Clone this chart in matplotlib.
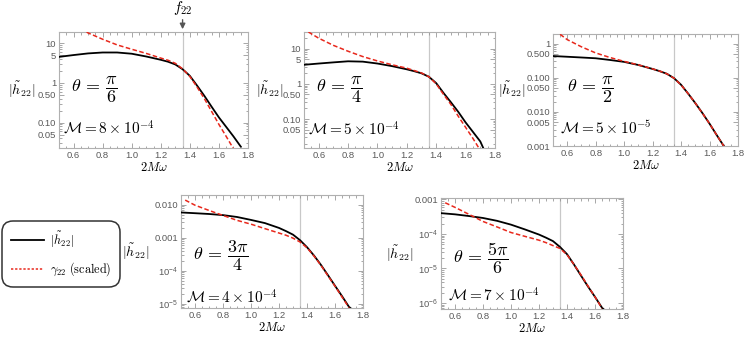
import numpy as np
import matplotlib
matplotlib.use("Agg")
import matplotlib.pyplot as plt
from matplotlib.lines import Line2D
from matplotlib.ticker import FixedLocator, LogLocator, NullFormatter, FixedFormatter

plt.rcParams['mathtext.fontset'] = 'cm'
plt.rcParams['font.family'] = ['Liberation Sans', 'DejaVu Sans']

f22 = 1.35

# Panel 1: theta = pi/6
x1_h = [0.5, 0.6, 0.7, 0.8, 0.9, 1.0, 1.1, 1.2, 1.25, 1.3, 1.35, 1.4, 1.45, 1.5, 1.55, 1.6, 1.65, 1.7, 1.75]
y1_h = [4.5, 5.0, 5.5, 5.8, 5.8, 5.4, 4.6, 3.8, 3.4, 2.9, 2.2, 1.5, 0.85, 0.47, 0.25, 0.135, 0.078, 0.045, 0.025]
x1_g = [0.69, 0.7, 0.8, 0.9, 1.0, 1.1, 1.2, 1.25, 1.3, 1.35, 1.4, 1.45, 1.5, 1.55, 1.6, 1.65, 1.7]
y1_g = [19, 18, 12.5, 9, 7, 5.5, 4.2, 3.7, 3.1, 2.25, 1.45, 0.78, 0.4, 0.19, 0.09, 0.045, 0.022]

# Panel 2: theta = pi/4
x2_h = [0.5, 0.6, 0.7, 0.8, 0.9, 1.0, 1.1, 1.2, 1.25, 1.3, 1.35, 1.4, 1.45, 1.5, 1.55, 1.6, 1.65, 1.7, 1.72]
y2_h = [3.5, 3.8, 4.1, 4.4, 4.3, 3.8, 3.2, 2.6, 2.3, 2.0, 1.6, 1.05, 0.55, 0.3, 0.16, 0.08, 0.043, 0.023, 0.015]
x2_g = [0.53, 0.6, 0.7, 0.8, 0.9, 1.0, 1.1, 1.2, 1.25, 1.3, 1.35, 1.4, 1.45, 1.5, 1.55, 1.6, 1.65, 1.69]
y2_g = [30, 20, 12.5, 8.5, 6, 4.5, 3.5, 2.8, 2.4, 2.05, 1.6, 1.0, 0.5, 0.26, 0.12, 0.058, 0.028, 0.015]

# Panel 3: theta = pi/2
x3_h = [0.5, 0.6, 0.7, 0.8, 0.9, 1.0, 1.1, 1.2, 1.25, 1.3, 1.35, 1.4, 1.45, 1.5, 1.55, 1.6, 1.65, 1.7]
y3_h = [0.43, 0.41, 0.39, 0.37, 0.33, 0.29, 0.235, 0.18, 0.155, 0.13, 0.097, 0.062, 0.034, 0.018, 0.0092, 0.0045, 0.0021, 0.001]
x3_g = [0.55, 0.6, 0.7, 0.8, 0.9, 1.0, 1.1, 1.2, 1.25, 1.3, 1.35, 1.4, 1.45, 1.5, 1.55, 1.6, 1.65, 1.7]
y3_g = [1.86, 1.3, 0.8, 0.53, 0.39, 0.3, 0.237, 0.181, 0.156, 0.13, 0.097, 0.061, 0.034, 0.018, 0.0091, 0.0045, 0.0021, 0.001]

# Panel 4: theta = 3pi/4
x4_h = [0.5, 0.6, 0.7, 0.8, 0.9, 1.0, 1.1, 1.2, 1.25, 1.3, 1.35, 1.4, 1.45, 1.5, 1.55, 1.6, 1.65, 1.7, 1.71]
y4_h = [0.0059, 0.0056, 0.0053, 0.0049, 0.0043, 0.0035, 0.0028, 0.0020, 0.0016, 0.00125, 0.00085, 0.00052,
        0.00029, 1.5e-4, 7.3e-5, 3.5e-5, 1.7e-5, 8.0e-6, 7.4e-6]
x4_g = [0.53, 0.6, 0.7, 0.8, 0.9, 1.0, 1.1, 1.2, 1.25, 1.3, 1.35, 1.4, 1.45, 1.5, 1.55, 1.6, 1.65, 1.7]
y4_g = [0.014, 0.0098, 0.0068, 0.0048, 0.0034, 0.0026, 0.0019, 0.0014, 0.0012, 0.00098, 0.00075, 0.0005,
        0.00028, 1.45e-4, 7.0e-5, 3.4e-5, 1.6e-5, 7.6e-6]

# Panel 5: theta = 5pi/6
x5_h = [0.5, 0.6, 0.7, 0.8, 0.9, 1.0, 1.1, 1.2, 1.25, 1.3, 1.35, 1.4, 1.45, 1.5, 1.55, 1.6, 1.65, 1.66]
y5_h = [4.0e-4, 3.7e-4, 3.3e-4, 2.9e-4, 2.4e-4, 1.86e-4, 1.35e-4, 9.6e-5, 7.8e-5, 6.2e-5, 4.2e-5, 2.6e-5,
        1.3e-5, 6.2e-6, 3.0e-6, 1.5e-6, 7.3e-7, 6.7e-7]
x5_g = [0.53, 0.6, 0.7, 0.8, 0.9, 1.0, 1.1, 1.2, 1.25, 1.3, 1.35, 1.4, 1.45, 1.5, 1.55, 1.6, 1.65]
y5_g = [8e-4, 5.9e-4, 3.7e-4, 2.3e-4, 1.6e-4, 1.1e-4, 8.5e-5, 6.6e-5, 5.6e-5, 4.6e-5, 3.8e-5, 2.5e-5,
        1.3e-5, 6.5e-6, 3.1e-6, 1.5e-6, 7e-7]

theta_labels = [r'$\theta\, =\, \dfrac{\pi}{6}$', r'$\theta\, =\, \dfrac{\pi}{4}$', r'$\theta\, =\, \dfrac{\pi}{2}$',
                r'$\theta\, =\, \dfrac{3\pi}{4}$', r'$\theta\, =\, \dfrac{5\pi}{6}$']
mass_labels = [r'$\mathcal{M} = 8\times10^{-4}$', r'$\mathcal{M} = 5\times10^{-4}$',
               r'$\mathcal{M} = 5\times10^{-5}$', r'$\mathcal{M} = 4\times10^{-4}$',
               r'$\mathcal{M} = 7\times10^{-4}$']

ytick_vals = [
    [10, 5, 1, 0.5, 0.1, 0.05],
    [10, 5, 1, 0.5, 0.1, 0.05],
    [1, 0.5, 0.1, 0.05, 0.01, 0.005, 0.001],
    [0.01, 0.001, 1e-4, 1e-5],
    [0.001, 1e-4, 1e-5, 1e-6],
]
ytick_labels = [
    ['10', '5', '1', '0.50', '0.10', '0.05'],
    ['10', '5', '1', '0.50', '0.10', '0.05'],
    ['1', '0.500', '0.100', '0.050', '0.010', '0.005', '0.001'],
    ['0.010', '0.001', r'$\mathregular{10^{-4}}$', r'$\mathregular{10^{-5}}$'],
    ['0.001', r'$\mathregular{10^{-4}}$', r'$\mathregular{10^{-5}}$', r'$\mathregular{10^{-6}}$'],
]
ylims = [(0.023, 19), (0.015, 30), (0.001, 1.9), (7.4e-6, 0.02), (6.7e-7, 0.0011)]
xticks = [0.6, 0.8, 1.0, 1.2, 1.4, 1.6, 1.8]
xtick_labels = ['0.6', '0.8', '1.0', '1.2', '1.4', '1.6', '1.8']

W, H = 747, 337
rects_px = [(59, 32, 248, 148), (304, 32, 495, 148), (553, 34, 738, 146),
            (181, 195, 363, 308), (441, 198, 623, 309)]
ylabel_x = [-0.196, -0.18, -0.224, -0.247, -0.23]
theta_pos = [(0.065, 0.5), (0.065, 0.5), (0.075, 0.5), (0.065, 0.46), (0.065, 0.46)]
mass_pos = [(0.02, 0.175), (0.02, 0.17), (0.04, 0.16), (0.03, 0.10), (0.04, 0.13)]

series = [(x1_h, y1_h, x1_g, y1_g), (x2_h, y2_h, x2_g, y2_g), (x3_h, y3_h, x3_g, y3_g),
          (x4_h, y4_h, x4_g, y4_g), (x5_h, y5_h, x5_g, y5_g)]

fig = plt.figure(figsize=(W / 100, H / 100), dpi=100)
gray = '#999999'
red = '#e8281c'

axes = []
for i, (l, t, r, b) in enumerate(rects_px):
    ax = fig.add_axes([l / W, 1 - b / H, (r - l) / W, (b - t) / H])
    axes.append(ax)
    xh, yh, xg, yg = series[i]
    ax.axvline(f22, color='#c8c8c8', lw=0.9, zorder=1)
    ax.plot(xh, yh, color='black', lw=1.3, zorder=3)
    ax.plot(xg, yg, color=red, lw=1.1, dashes=(3, 1.6), zorder=4)
    ax.set_yscale('log')
    ax.set_xlim(0.5, 1.8)
    ax.set_ylim(*ylims[i])
    ax.yaxis.set_major_locator(FixedLocator(ytick_vals[i]))
    ax.yaxis.set_major_formatter(FixedFormatter(ytick_labels[i]))
    ax.yaxis.set_minor_locator(LogLocator(base=10, subs=np.arange(2, 10), numticks=50))
    ax.yaxis.set_minor_formatter(NullFormatter())
    ax.set_xticks(xticks)
    ax.set_xticklabels(xtick_labels)
    ax.set_xticks(np.arange(0.5, 1.81, 0.05), minor=True)
    ax.tick_params(which='both', direction='in', top=True, right=True, colors=gray,
                   labelcolor='#5a5a5a', labelsize=6.8, width=0.6)
    ax.tick_params(which='major', length=3.5, pad=2)
    ax.tick_params(which='minor', length=1.8)
    for sp in ax.spines.values():
        sp.set_color('#b0b0b0')
        sp.set_linewidth(0.8)
    ax.set_xlabel(r'$2M\omega$', fontsize=9, labelpad=1)
    ax.set_ylabel(r'$|\tilde{h}_{22}|$', fontsize=10, rotation=0, va='center', ha='center')
    ax.yaxis.set_label_coords(ylabel_x[i], 0.5)
    ax.text(theta_pos[i][0], theta_pos[i][1], theta_labels[i], transform=ax.transAxes,
            fontsize=13, va='center', ha='left')
    ax.text(mass_pos[i][0], mass_pos[i][1], mass_labels[i], transform=ax.transAxes,
            fontsize=11, va='center', ha='left')

# f22 marker above first panel
ax0 = axes[0]
ax0.annotate('', xy=(f22, 1.0), xycoords=('data', 'axes fraction'),
             xytext=(f22, 1.13), textcoords=('data', 'axes fraction'),
             arrowprops=dict(arrowstyle='-|>', color='#555555', lw=1.0, mutation_scale=8))
ax0.text(f22, 1.21, r'$f_{22}$', transform=ax0.get_xaxis_transform(), ha='center', va='center', fontsize=11)

handles = [Line2D([], [], color='black', lw=1.3),
           Line2D([], [], color=red, lw=1.1, dashes=(1.5, 1.2))]
leg = fig.legend(handles, [r'$|\tilde{h}_{22}|$', r'$\gamma_{22}\ \mathrm{(scaled)}$'],
                 loc='upper left', bbox_to_anchor=(5 / W, 1 - 224 / H), fontsize=8.8,
                 frameon=True, fancybox=True, edgecolor='black', handlelength=2.7,
                 labelspacing=0.9, borderpad=0.45, handletextpad=0.5, borderaxespad=0)
leg.get_frame().set_linewidth(1.1)
leg.get_frame().set_boxstyle('round,pad=0.25,rounding_size=0.9')

fig.savefig('out.png', dpi=100)
